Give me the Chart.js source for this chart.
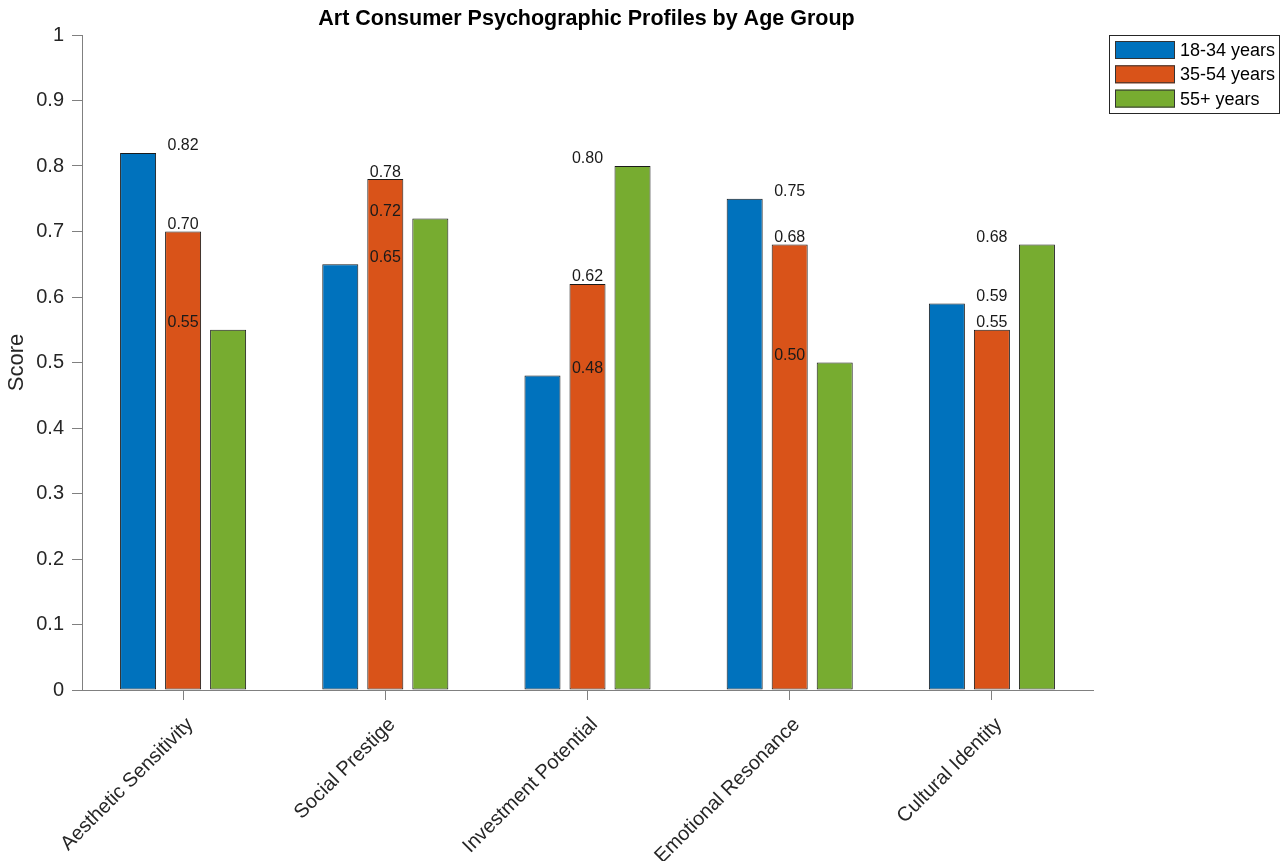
<!DOCTYPE html>
<html>
<head>
<meta charset="utf-8">
<script src="https://cdn.jsdelivr.net/npm/chart.js@4.4.0/dist/chart.umd.min.js"></script>
<style>
  html, body { margin: 0; padding: 0; background: #fff; }
  #wrap { width: 1283px; height: 861px; }
</style>
</head>
<body>
<div id="wrap"><canvas id="myChart" width="1283" height="861"></canvas></div>
<script>
'use strict';

let categories = ['Aesthetic Sensitivity', 'Social Prestige', 'Investment Potential', 'Emotional Resonance', 'Cultural Identity'];
let groupNames = ['18-34 years', '35-54 years', '55+ years'];
let young = [0.82, 0.65, 0.48, 0.75, 0.59];
let middle = [0.70, 0.78, 0.62, 0.68, 0.55];
let senior = [0.55, 0.72, 0.80, 0.50, 0.68];
let yTicks = [0, 0.1, 0.2, 0.3, 0.4, 0.5, 0.6, 0.7, 0.8, 0.9, 1];

let colors = ['#0072BD', '#D95319', '#77AC30'];
let fontName = '"Liberation Sans", Arial, Helvetica, sans-serif';
let axisGray = '#808080';
let textDark = '#262626';

// value labels: MATLAB put them all over the middle bar of each group
let valueLabels = {
    id: 'valueLabels',
    afterDatasetsDraw(chart) {
        let ctx = chart.ctx;
        let yScale = chart.scales.y;
        let midMeta = chart.getDatasetMeta(1);
        ctx.save();
        ctx.font = '16px ' + fontName;
        ctx.fillStyle = '#1a1a1a';
        ctx.textAlign = 'center';
        ctx.textBaseline = 'bottom';
        chart.data.datasets.forEach(function (ds) {
            ds.data.forEach(function (v, j) {
                let x = midMeta.data[j].x;
                let y = yScale.getPixelForValue(v);
                ctx.fillText(v.toFixed(2), x, y + 1);
            });
        });
        ctx.restore();
    }
};

// title + boxed legend in the top right
let extras = {
    id: 'extras',
    afterDraw(chart) {
        let ctx = chart.ctx;
        let area = chart.chartArea;
        ctx.save();
        ctx.font = 'bold 21.5px ' + fontName;
        ctx.fillStyle = '#000';
        ctx.textAlign = 'center';
        ctx.textBaseline = 'middle';
        ctx.fillText('Art Consumer Psychographic Profiles by Age Group', (area.left + area.right) / 2 - 1, 19);

        let bx = 1109, by = 35, bw = 170, bh = 78;
        ctx.fillStyle = '#fff';
        ctx.fillRect(bx, by, bw, bh);
        ctx.strokeStyle = '#262626';
        ctx.lineWidth = 1;
        ctx.strokeRect(bx + 0.5, by + 0.5, bw, bh);
        ctx.font = '18px ' + fontName;
        ctx.textAlign = 'left';
        chart.data.datasets.forEach(function (ds, i) {
            let py = by + 6 + i * 24.3;
            ctx.fillStyle = ds.backgroundColor;
            ctx.fillRect(bx + 6, py, 60, 18);
            ctx.strokeStyle = '#333';
            ctx.strokeRect(bx + 6.5, py + 0.5, 59, 17);
            ctx.fillStyle = '#000';
            ctx.fillText(ds.label, bx + 71, py + 10);
        });
        ctx.restore();
    }
};

let ctx = document.getElementById('myChart').getContext('2d');

let myChart = new Chart(ctx, {
    type: 'bar',
    data: {
        labels: categories,
        datasets: [
            { label: groupNames[0], data: young, backgroundColor: colors[0] },
            { label: groupNames[1], data: middle, backgroundColor: colors[1] },
            { label: groupNames[2], data: senior, backgroundColor: colors[2] }
        ].map(function (d) {
            d.borderColor = '#1a1a1a';
            d.borderWidth = 1;
            d.borderSkipped = false;
            d.categoryPercentage = 0.668;
            d.barPercentage = 0.8;
            return d;
        })
    },
    options: {
        responsive: false,
        animation: false,
        layout: { padding: { left: 0, right: 190, top: 35, bottom: 0 } },
        plugins: {
            legend: { display: false },
            title: { display: false },
            tooltip: { enabled: false }
        },
        scales: {
            x: {
                afterFit: function (scale) { scale.height = 171; },
                grid: { offset: false, drawOnChartArea: false, drawTicks: true, tickLength: 10, color: axisGray },
                border: { display: true, color: axisGray },
                ticks: {
                    color: textDark,
                    font: { family: fontName, size: 20 },
                    maxRotation: 45,
                    minRotation: 45,
                    labelOffset: 7,
                    padding: 13
                }
            },
            y: {
                min: 0,
                max: 1,
                afterFit: function (scale) { scale.width = 82; },
                afterBuildTicks: function (scale) {
                    scale.ticks = yTicks.map(function (v) { return { value: v }; });
                },
                grid: { drawOnChartArea: false, drawTicks: true, tickLength: 10, color: axisGray },
                border: { display: true, color: axisGray },
                ticks: {
                    color: textDark,
                    font: { family: fontName, size: 20 },
                    padding: 8,
                    callback: function (v) { return String(+v.toFixed(1)); }
                },
                title: {
                    display: true,
                    text: 'Score',
                    color: textDark,
                    font: { family: fontName, size: 22 },
                    padding: { top: 4, bottom: 0 }
                }
            }
        }
    },
    plugins: [valueLabels, extras]
});
</script>
</body>
</html>
